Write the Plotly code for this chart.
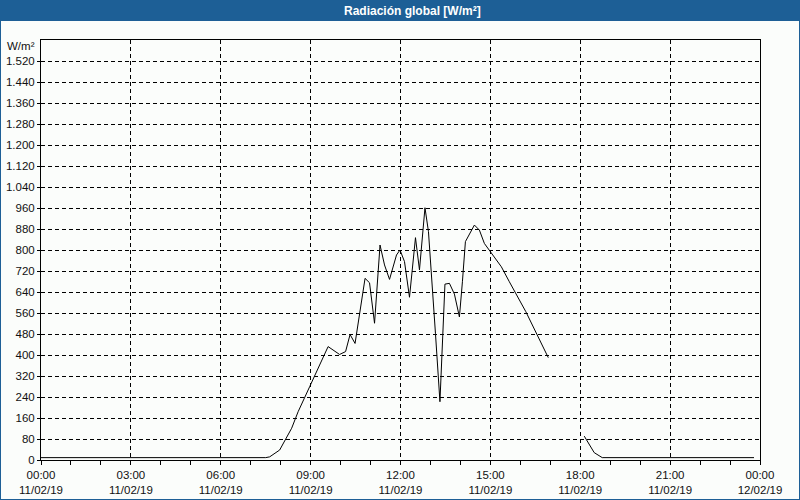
import plotly.graph_objects as go

# ---- data ----
times = ["00:00", "07:30", "07:38", "07:58", "08:22", "08:35", "08:58", "09:35", "09:58",
         "10:10", "10:19", "10:29", "10:49", "10:58", "11:08", "11:19", "11:28", "11:38",
         "11:52", "11:59", "12:08", "12:18", "12:30", "12:38", "12:49", "12:56", "13:10",
         "13:19", "13:29", "13:38", "13:48", "13:58", "14:04", "14:10", "14:28", "14:38",
         "14:48", "14:58", "15:22", "15:38", "16:11", "16:56", "17:30",
         "18:08", "18:18", "18:28", "18:44", "23:48"]
radiation = [9, 9, 12, 38, 121, 184, 279, 432, 402,
             413, 478, 444, 692, 675, 521, 819, 743, 688,
             781, 800, 756, 620, 847, 724, 961, 870, 483,
             222, 670, 673, 632, 545, 679, 832, 895, 876,
             825, 800, 736, 679, 565, 390, None,
             91, 57, 28, 9, 9]

x_tick_hours = ["00:00", "03:00", "06:00", "09:00", "12:00", "15:00", "18:00", "21:00", "00:00"]
x_tick_dates = ["11/02/19"] * 8 + ["12/02/19"]
x_tick_vals = ["2019-02-11 %s" % h for h in x_tick_hours[:-1]] + ["2019-02-12 00:00"]

y_tick_vals = list(range(0, 1521, 80))
y_tick_text = ["0", "80", "160", "240", "320", "400", "480", "560", "640", "720", "800",
               "880", "960", "1.040", "1.120", "1.200", "1.280", "1.360", "1.440", "1.520"]

title_text = "Radiación global [W/m²]"
unit_text = "W/m²"

# ---- figure ----
W, H = 800, 500
ML, MR, MT, MB = 41, 40, 40, 40
PW, PH = W - ML - MR, H - MT - MB
BLUE = "#1d5f96"
BG = "#fbfdfb"
FONT = "Liberation Sans, Arial, sans-serif"

x_full = ["2019-02-11 " + t for t in times]

fig = go.Figure()
fig.add_trace(go.Scatter(x=x_full, y=radiation, mode="lines",
                         line=dict(color="black", width=1), connectgaps=False,
                         hoverinfo="skip", showlegend=False))

def px_x(p):
    return (p - ML) / PW

def px_y(p):
    return (H - MB - p) / PH

fig.update_layout(
    width=W, height=H,
    margin=dict(l=ML, r=MR, t=MT, b=MB, autoexpand=False),
    paper_bgcolor=BG, plot_bgcolor=BG,
    font=dict(family=FONT, size=11.5, color="#111"),
    showlegend=False,
    xaxis=dict(
        type="date", automargin=False,
        range=["2019-02-11 00:00", "2019-02-12 00:00"],
        tickmode="array", tickvals=x_tick_vals,
        ticktext=["%s<br>%s" % (h, d) for h, d in zip(x_tick_hours, x_tick_dates)],
        ticks="outside", ticklen=4, tickcolor="black",
        showline=True, linecolor="black", linewidth=1, mirror=True,
        showgrid=True, gridcolor="black", gridwidth=1, griddash="4px,3px",
        zeroline=False,
        minor=dict(ticks="outside", ticklen=4, tickcolor="black",
                   dtick=3600000, tick0="2019-02-11 00:00", showgrid=False),
        fixedrange=True,
    ),
    yaxis=dict(
        range=[0, 1600], automargin=False,
        tickmode="array", tickvals=y_tick_vals, ticktext=y_tick_text,
        ticks="outside", ticklen=3, tickcolor="black",
        showline=True, linecolor="black", linewidth=1, mirror=True,
        showgrid=True, gridcolor="black", gridwidth=1, griddash="4px,3px",
        zeroline=False, fixedrange=True,
    ),
    shapes=[
        dict(type="rect", xref="paper", yref="paper",
             x0=px_x(0), x1=px_x(W), y0=px_y(21), y1=px_y(0),
             fillcolor=BLUE, line=dict(width=0), layer="below"),
        dict(type="rect", xref="paper", yref="paper",
             x0=px_x(0), x1=px_x(W), y0=px_y(H), y1=px_y(0),
             fillcolor="rgba(0,0,0,0)", line=dict(color=BLUE, width=2)),
    ],
    annotations=[
        dict(text="<b>%s</b>" % title_text, xref="paper", yref="paper",
             x=px_x(412), y=px_y(11), xanchor="center", yanchor="middle",
             showarrow=False, font=dict(color="white", size=12, family=FONT)),
        dict(text=unit_text, xref="paper", yref="paper",
             x=px_x(37), y=px_y(46), xanchor="right", yanchor="middle",
             showarrow=False, font=dict(color="#111", size=11.5, family=FONT)),
    ],
)

fig.write_html("out.html")
